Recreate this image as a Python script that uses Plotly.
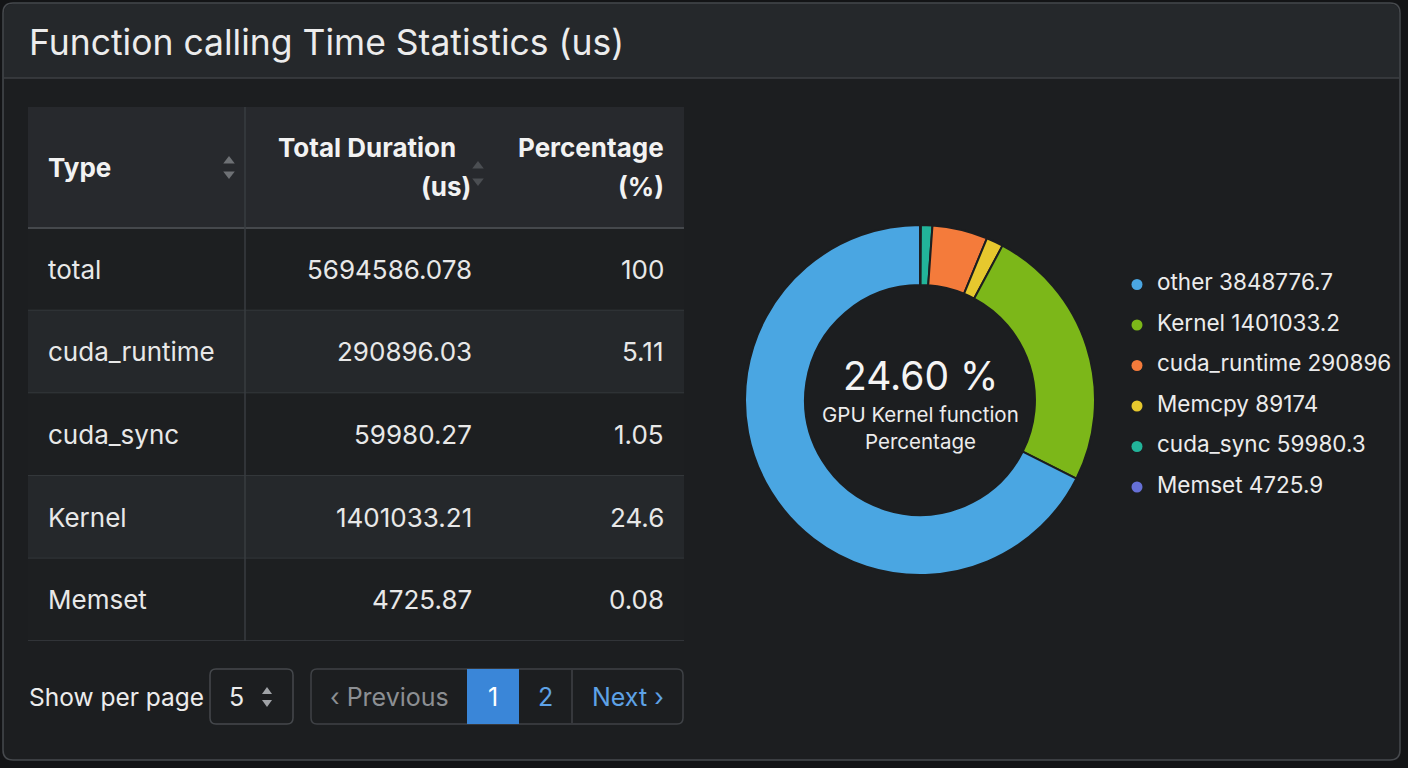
import plotly.graph_objects as go

W, H = 1408, 768
FONT = "Inter"

# ---------------- data ----------------
table_types = ["total", "cuda_runtime", "cuda_sync", "Kernel", "Memset"]
table_durations = [5694586.078, 290896.03, 59980.27, 1401033.21, 4725.87]
table_percentages = [100, 5.11, 1.05, 24.6, 0.08]

# legend order
pie_labels = ["other", "Kernel", "cuda_runtime", "Memcpy", "cuda_sync", "Memset"]
pie_values = [3848776.7, 1401033.2, 290896, 89174, 59980.3, 4725.9]
pie_colors = ["#4aa6e2", "#7cb719", "#f47b3b", "#e6c82e", "#22b49a", "#6670d6"]
# order in which slices run clockwise from 12 o'clock
slice_order = ["Memset", "cuda_sync", "cuda_runtime", "Memcpy", "Kernel", "other"]

# ---------------- helpers ----------------
def px(x):
    return x / W

def py(y):
    return 1 - y / H

def rrect(x0, y0, x1, y1, r):
    pts = [
        f"M{px(x0 + r)},{py(y0)}",
        f"L{px(x1 - r)},{py(y0)}",
        f"Q{px(x1)},{py(y0)} {px(x1)},{py(y0 + r)}",
        f"L{px(x1)},{py(y1 - r)}",
        f"Q{px(x1)},{py(y1)} {px(x1 - r)},{py(y1)}",
        f"L{px(x0 + r)},{py(y1)}",
        f"Q{px(x0)},{py(y1)} {px(x0)},{py(y1 - r)}",
        f"L{px(x0)},{py(y0 + r)}",
        f"Q{px(x0)},{py(y0)} {px(x0 + r)},{py(y0)}",
        "Z",
    ]
    return " ".join(pts)

shapes = []
annotations = []

# ---------------- panel chrome ----------------
shapes.append(dict(type="path", path=rrect(3, 3, 1400, 760, 10), xref="paper", yref="paper",
                   fillcolor="#1c1e20", line=dict(color="#46494d", width=1.5), layer="below"))
shapes.append(dict(type="path", path=(
    f"M{px(13)},{py(4)} L{px(1390)},{py(4)} Q{px(1399)},{py(4)} {px(1399)},{py(13)} "
    f"L{px(1399)},{py(78)} L{px(4)},{py(78)} L{px(4)},{py(13)} Q{px(4)},{py(4)} {px(13)},{py(4)} Z"),
    xref="paper", yref="paper", fillcolor="#25282b", line=dict(width=0), layer="below"))
shapes.append(dict(type="line", x0=px(4), x1=px(1399), y0=py(78), y1=py(78), xref="paper", yref="paper",
                   line=dict(color="#3c3f43", width=1.5), layer="below"))
annotations.append(dict(text="Function calling Time Statistics (us)", x=px(27), y=py(42), xref="paper", yref="paper",
                        xanchor="left", yanchor="middle", showarrow=False,
                        font=dict(family=FONT, size=35.5, color="#ececec")))

# ---------------- table (on axis x / y, rows in row units) ----------------
HDR_TOP, HDR_BOT, TBL_BOT = 107, 228, 641
ROW_H = (TBL_BOT - HDR_BOT) / len(table_types)

def ry(pyv):
    return (pyv - HDR_BOT) / ROW_H

TX0, TX1, COL1_X = 28, 684, 245
hdr_y0 = ry(HDR_TOP)

shapes.append(dict(type="rect", xref="x", yref="y", x0=TX0, x1=TX1, y0=hdr_y0, y1=0,
                   fillcolor="#27292d", line=dict(width=0), layer="below"))
for i in range(len(table_types)):
    fill = "#25282b" if i % 2 == 1 else "#1d1f21"
    shapes.append(dict(type="rect", xref="x", yref="y", x0=TX0, x1=TX1, y0=i, y1=i + 1,
                       fillcolor=fill, line=dict(width=0), layer="below"))
    shapes.append(dict(type="line", xref="x", yref="y", x0=TX0, x1=TX1, y0=i + 1, y1=i + 1,
                       line=dict(color="#393c40", width=1.5), layer="below"))
shapes.append(dict(type="line", xref="x", yref="y", x0=TX0, x1=TX1, y0=0, y1=0,
                   line=dict(color="#45484c", width=2), layer="below"))
shapes.append(dict(type="line", xref="x", yref="y", x0=COL1_X, x1=COL1_X, y0=hdr_y0, y1=len(table_types),
                   line=dict(color="#393c40", width=1.5), layer="below"))

hdr = [
    ("<b>Type</b>", 46, 168, "left"),
    ("<b>Total Duration</b>", 458, 148, "right"),
    ("<b>(us)</b>", 473, 187, "right"),
    ("<b>Percentage</b>", 666, 148, "right"),
    ("<b>(%)</b>", 666, 187, "right"),
]
for txt, x, y, anc in hdr:
    annotations.append(dict(text=txt, x=x, y=ry(y), xref="x", yref="y", xanchor=anc, yanchor="middle",
                            showarrow=False, font=dict(family=FONT, size=26, color="#f2f2f2")))

body_font = dict(family=FONT, size=26, color="#e8e8e8")
for i, (t, d, p) in enumerate(zip(table_types, table_durations, table_percentages)):
    annotations.append(dict(text=t, x=46, y=i + 0.5, xref="x", yref="y", xanchor="left", yanchor="middle",
                            showarrow=False, font=body_font))
    annotations.append(dict(text=repr(float(d)) if d != int(d) else str(int(d)), x=474, y=i + 0.5,
                            xref="x", yref="y", xanchor="right", yanchor="middle", showarrow=False, font=body_font))
    annotations.append(dict(text=f"{p:g}", x=666, y=i + 0.5, xref="x", yref="y", xanchor="right",
                            yanchor="middle", showarrow=False, font=body_font))

sort_x = [229, 229, 478, 478]
sort_y = [ry(161), ry(174), ry(166), ry(181)]
sort_sym = ["triangle-up", "triangle-down", "triangle-up", "triangle-down"]
sort_col = ["#6e7175", "#6e7175", "#4b4e52", "#4b4e52"]

# ---------------- pagination (paper) ----------------
annotations.append(dict(text="Show per page", x=px(27), y=py(697), xref="paper", yref="paper", xanchor="left",
                        yanchor="middle", showarrow=False, font=dict(family=FONT, size=24.5, color="#ececec")))
shapes.append(dict(type="path", path=rrect(210, 669, 293, 724, 6), xref="paper", yref="paper",
                   fillcolor="#1c1e20", line=dict(color="#45484c", width=1.5), layer="below"))
annotations.append(dict(text="5", x=px(236), y=py(697), xref="paper", yref="paper", xanchor="center",
                        yanchor="middle", showarrow=False, font=dict(family=FONT, size=25, color="#ececec")))
shapes.append(dict(type="path", xref="paper", yref="paper", fillcolor="#a0a3a7", line=dict(width=0),
                   path=f"M{px(262)},{py(694)} L{px(272)},{py(694)} L{px(267)},{py(687)} Z"))
shapes.append(dict(type="path", xref="paper", yref="paper", fillcolor="#a0a3a7", line=dict(width=0),
                   path=f"M{px(262)},{py(700)} L{px(272)},{py(700)} L{px(267)},{py(707)} Z"))

shapes.append(dict(type="path", path=rrect(311, 669, 683, 724, 6), xref="paper", yref="paper",
                   fillcolor="#1c1e20", line=dict(color="#3f4246", width=1.5), layer="below"))
shapes.append(dict(type="rect", x0=px(467), x1=px(519), y0=py(669), y1=py(724), xref="paper", yref="paper",
                   fillcolor="#3a86d8", line=dict(width=0)))
shapes.append(dict(type="line", x0=px(572), x1=px(572), y0=py(670), y1=py(723), xref="paper", yref="paper",
                   line=dict(color="#3f4246", width=1.5)))
page_items = [("‹ Previous", 389, "#8c8f93"), ("1", 493, "#ffffff"), ("2", 545, "#5ea2e6"), ("Next ›", 628, "#5ea2e6")]
for txt, xc, col in page_items:
    annotations.append(dict(text=txt, x=px(xc), y=py(697), xref="paper", yref="paper", xanchor="center",
                            yanchor="middle", showarrow=False, font=dict(family=FONT, size=25, color=col)))

# ---------------- donut ----------------
total = sum(pie_values)
kernel_pct = pie_values[pie_labels.index("Kernel")] / total * 100
annotations.append(dict(text=f"{kernel_pct:.2f} %", x=px(920), y=py(376), xref="paper", yref="paper",
                        xanchor="center", yanchor="middle", showarrow=False,
                        font=dict(family=FONT, size=39, color="#f4f4f4")))
annotations.append(dict(text="GPU Kernel function", x=px(920), y=py(414), xref="paper", yref="paper",
                        xanchor="center", yanchor="middle", showarrow=False,
                        font=dict(family=FONT, size=20.5, color="#ececec")))
annotations.append(dict(text="Percentage", x=px(920), y=py(441), xref="paper", yref="paper",
                        xanchor="center", yanchor="middle", showarrow=False,
                        font=dict(family=FONT, size=20.5, color="#ececec")))

order_idx = [pie_labels.index(n) for n in slice_order]
fig = go.Figure()
fig.add_trace(go.Pie(
    labels=[pie_labels[k] for k in order_idx], values=[pie_values[k] for k in order_idx],
    hole=0.657, sort=False, direction="clockwise", rotation=0,
    marker=dict(colors=[pie_colors[k] for k in order_idx], line=dict(color="#1c1e20", width=2)),
    textinfo="none", showlegend=False, hoverinfo="label+value+percent",
    domain=dict(x=[px(745), px(1095)], y=[py(575), py(225)]),
))

fig.add_trace(go.Scatter(x=sort_x, y=sort_y, mode="markers", xaxis="x", yaxis="y", hoverinfo="skip",
                         marker=dict(symbol=sort_sym, size=10, color=sort_col), showlegend=False))

leg_idx = list(range(len(pie_labels)))
leg_text = [f"{l} {v:.8g}" for l, v in zip(pie_labels, pie_values)]
fig.add_trace(go.Scatter(x=[1137] * len(pie_labels), y=leg_idx, mode="markers", xaxis="x2", yaxis="y2",
                         marker=dict(size=11, color=pie_colors), hoverinfo="skip", showlegend=False))
fig.add_trace(go.Scatter(x=[1157] * len(pie_labels), y=leg_idx, mode="text", xaxis="x2", yaxis="y2",
                         text=leg_text, textposition="middle right",
                         textfont=dict(family=FONT, size=22.5, color="#ececec"), hoverinfo="skip", showlegend=False))

LEG_Y0, LEG_STEP = 284.5, 40.5
fig.update_layout(
    width=W, height=H, margin=dict(l=0, r=0, t=0, b=0),
    paper_bgcolor="#131416", plot_bgcolor="rgba(0,0,0,0)",
    font=dict(family=FONT, color="#ececec"),
    xaxis=dict(domain=[px(TX0), px(TX1)], range=[TX0, TX1], visible=False, fixedrange=True),
    yaxis=dict(domain=[py(TBL_BOT), py(HDR_TOP)], range=[len(table_types), hdr_y0], visible=False, fixedrange=True),
    xaxis2=dict(domain=[px(1110), px(1400)], range=[1110, 1400], visible=False, fixedrange=True, anchor="y2"),
    yaxis2=dict(domain=[py(LEG_Y0 + LEG_STEP * 5.5), py(LEG_Y0 - LEG_STEP * 0.5)], range=[5.5, -0.5],
                visible=False, fixedrange=True, anchor="x2"),
    shapes=shapes, annotations=annotations, showlegend=False,
)

fig.write_html("out.html")
